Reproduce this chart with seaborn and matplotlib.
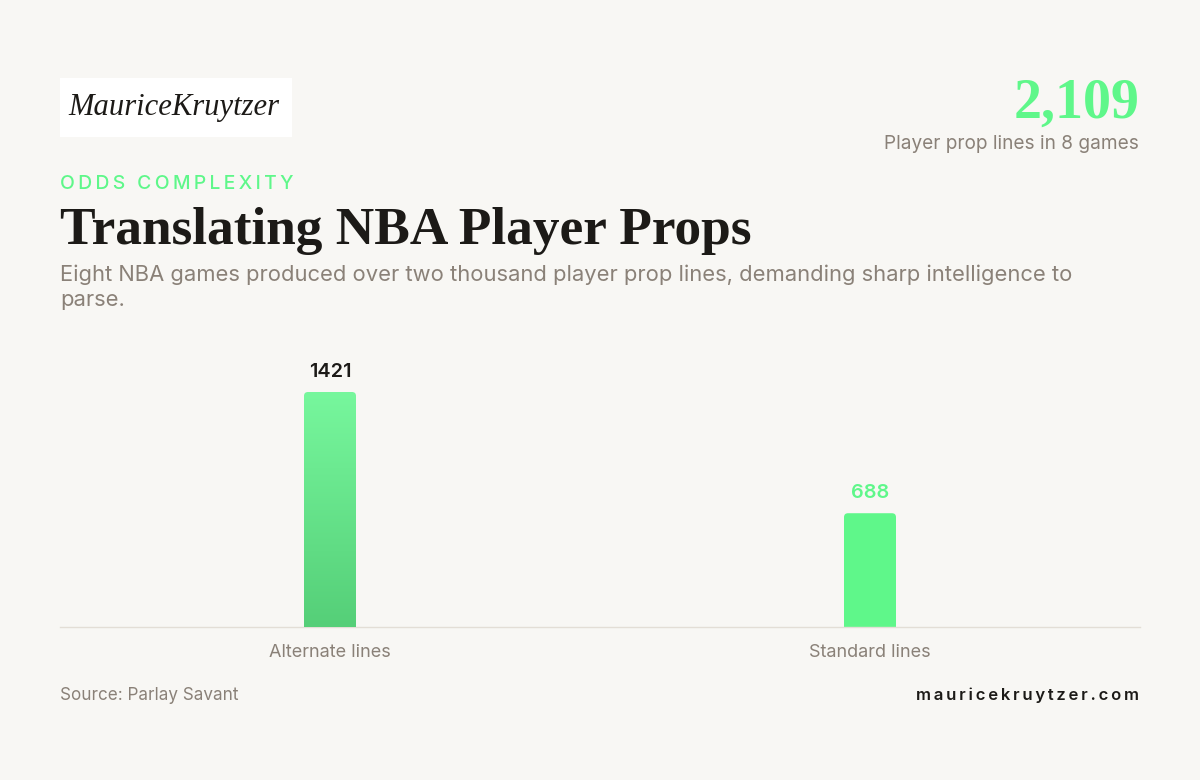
import numpy as np
import pandas as pd
import matplotlib
matplotlib.use("Agg")
import matplotlib.pyplot as plt
import seaborn as sns
from matplotlib.patches import FancyBboxPatch, Rectangle
from matplotlib.colors import LinearSegmentedColormap

# ---- data ----
categories = ["Alternate lines", "Standard lines"]
values = [1421, 688]
total_label = "2,109"

BG = "#f8f7f4"
GREEN = "#5ff78a"
GREEN_TOP = "#77f79d"
GREEN_BOT = "#55cf78"
GRAY = "#8a8178"
DARK = "#1c1a17"

sns.set_theme(style="white")
plt.rcParams["font.family"] = ["Inter", "DejaVu Sans"]

fig = plt.figure(figsize=(12, 7.8), dpi=100, facecolor=BG)
W, H = 1200, 780

def fx(x): return x / W
def fy(y): return 1 - y / H

renderer = fig.canvas.get_renderer()

def fit_width(t, target_px):
    bb = t.get_window_extent(renderer=renderer)
    t.set_fontsize(t.get_fontsize() * target_px / bb.width)

ax = fig.add_axes([fx(60), fy(627), fx(1080), 287 / H])
ax.set_facecolor(BG)

df = pd.DataFrame({"category": categories, "value": values})
sns.barplot(data=df, x="category", y="value", ax=ax, color=GREEN,
            width=0.0963, saturation=1)

ax.set_xlim(-0.5, len(categories) - 0.5)
ymax = max(values) * 287 / 235
ax.set_ylim(0, ymax)

xu_per_px = (len(categories)) / 1080
yu_per_px = ymax / 287
rad_px = 4

cmap = LinearSegmentedColormap.from_list("g", [GREEN_BOT, GREEN_TOP])
for i, p in enumerate(list(ax.patches)):
    x0, w, h = p.get_x(), p.get_width(), p.get_height()
    p.set_visible(False)
    rp = FancyBboxPatch((x0, -rad_px * 3 * yu_per_px), w, h + rad_px * 3 * yu_per_px,
                        boxstyle=f"round,pad=0,rounding_size={rad_px * xu_per_px}",
                        mutation_aspect=yu_per_px / xu_per_px,
                        facecolor=GREEN, edgecolor="none", zorder=2)
    ax.add_patch(rp)
    if i == 0:
        rp.set_facecolor("none")
        grad = np.linspace(0, 1, 256).reshape(-1, 1)
        im = ax.imshow(grad, cmap=cmap, origin="lower", aspect="auto",
                       extent=[x0, x0 + w, 0, h], zorder=3)
        im.set_clip_path(rp)
    ax.annotate(f"{values[i]}", (x0 + w / 2, h), xytext=(0, 8),
                textcoords="offset points", ha="center", va="bottom",
                fontsize=14.3, fontweight="semibold",
                color=DARK if i == 0 else GREEN)

ax.set_xlim(-0.5, len(categories) - 0.5)
ax.set_ylim(0, ymax)
ax.set_xlabel("")
ax.set_ylabel("")
ax.set_yticks([])
for s in ["top", "left", "right"]:
    ax.spines[s].set_visible(False)
ax.spines["bottom"].set_color("#e3ded6")
ax.spines["bottom"].set_linewidth(1)
ax.tick_params(axis="x", length=0, pad=12, labelsize=13, labelcolor=GRAY)

# ---- header ----
fig.patches.append(Rectangle((fx(60), fy(137)), fx(232), 59 / H,
                             transform=fig.transFigure, facecolor="white",
                             edgecolor="none", zorder=0))
logo = fig.text(fx(68), fy(107), "MauriceKruytzer", family=["Liberation Serif", "DejaVu Serif"],
                style="italic", fontsize=23, color=DARK, va="center", ha="left")
fit_width(logo, 212)

big = fig.text(fx(1139), fy(104), total_label, family=["Liberation Serif"], fontweight="bold",
               fontsize=40, color=GREEN, ha="right", va="center")
fit_width(big, 126)
fig.text(fx(1139), fy(144), "Player prop lines in 8 games", fontsize=13.7,
         color=GRAY, ha="right", va="center")

kick = fig.text(fx(60), fy(184), "\u2009".join("ODDS COMPLEXITY"),
                family=["Inter", "DejaVu Sans"],
                fontsize=12, color=GREEN, fontweight="medium", ha="left", va="center")
fit_width(kick, 233)
title = fig.text(fx(60), fy(231), "Translating NBA Player Props", family=["Liberation Serif"],
                 fontweight="bold", fontsize=40, color=DARK, ha="left", va="center")
fit_width(title, 692)
fig.text(fx(60), fy(287),
         "Eight NBA games produced over two thousand player prop lines, demanding sharp intelligence to\nparse.",
         fontsize=15.8, color=GRAY, ha="left", va="center", linespacing=1.3)

# ---- footer ----
fig.text(fx(60), fy(695), "Source: Parlay Savant", fontsize=12.3, color=GRAY,
         ha="left", va="center")
site = fig.text(fx(1139), fy(695), "\u2009".join("mauricekruytzer.com"),
                family=["Inter", "DejaVu Sans"],
                fontsize=12, fontweight="semibold", color=DARK, ha="right", va="center")
fit_width(site, 223)

fig.savefig("out.png", dpi=100, facecolor=BG)
